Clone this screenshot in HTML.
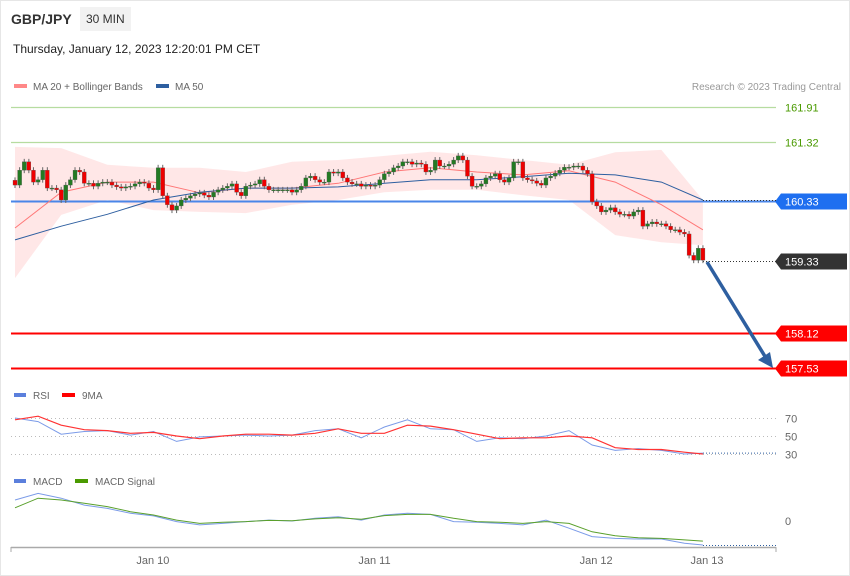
<!DOCTYPE html>
<html><head><meta charset="utf-8"><style>
body{margin:0;background:#fff;font-family:"Liberation Sans",sans-serif}
#wrap{position:relative;width:850px;height:576px;overflow:hidden}
svg text{font-family:"Liberation Sans",sans-serif}
</style></head><body>
<div id="wrap">
<svg id="c" width="850" height="576">
<rect x="0.5" y="0.5" width="849" height="575" fill="#fff" stroke="#e6e6e6"/>
<text x="11" y="24" font-size="14" font-weight="bold" fill="#333">GBP/JPY</text>
<rect x="80" y="7" width="51" height="24" fill="#f2f2f2"/>
<text x="86" y="23" font-size="12" fill="#333">30 MIN</text>
<text x="13" y="53" font-size="12" fill="#222">Thursday, January 12, 2023 12:20:01 PM CET</text>
<rect x="14" y="84" width="13" height="4" fill="#f88"/>
<text x="33" y="90" font-size="10" fill="#666">MA 20 + Bollinger Bands</text>
<rect x="156" y="84" width="13" height="4" fill="#2e5fa0"/>
<text x="175" y="90" font-size="10" fill="#666">MA 50</text>
<text x="841" y="90" font-size="10" fill="#999" text-anchor="end">Research © 2023 Trading Central</text>
<g id="main"></g>
</svg>
</div>
<script>
const closes=[160.60,160.85,160.99,160.85,160.65,160.69,160.85,160.55,160.55,160.52,
160.35,160.60,160.69,160.85,160.82,160.63,160.63,160.58,160.63,160.65,
160.65,160.60,160.57,160.55,160.57,160.58,160.62,160.65,160.63,160.55,
160.52,160.89,160.42,160.27,160.18,160.25,160.35,160.38,160.42,160.45,
160.47,160.43,160.40,160.48,160.52,160.55,160.58,160.62,160.48,160.42,
160.58,160.60,160.62,160.69,160.58,160.52,160.52,160.52,160.52,160.52,
160.48,160.52,160.58,160.72,160.75,160.69,160.65,160.65,160.82,160.80,
160.82,160.72,160.65,160.62,160.62,
160.58,160.60,160.58,160.60,160.69,160.79,160.82,160.89,160.92,160.99,
160.99,160.95,160.97,160.95,160.82,160.85,161.02,160.92,160.92,160.95,
161.02,161.09,161.02,160.75,160.58,160.58,160.62,160.72,160.75,160.79,
160.69,160.65,160.72,160.99,160.99,160.72,160.69,160.67,160.63,160.60,
160.72,160.75,160.80,160.85,160.90,160.90,160.92,160.92,160.85,160.79,
160.32,160.25,160.15,160.18,160.22,160.15,160.11,160.11,160.08,160.15,
160.18,159.91,159.95,159.98,159.95,159.95,159.91,159.85,159.85,159.81,
159.78,159.42,159.34,159.54,159.34];
const firstOpen=160.68;
const lineIdx=[0,10,20,30,40,50,60,70,80,90,100,110,120,130,140,149];
const ma20=[159.88,160.48,160.65,160.65,160.47,160.55,160.55,160.63,160.82,160.89,160.82,160.77,160.84,160.65,160.27,159.85];
const ma50=[159.68,159.91,160.11,160.35,160.48,160.55,160.55,160.57,160.63,160.69,160.69,160.74,160.80,160.77,160.65,160.35];
const bbUpper=[161.24,161.22,160.94,160.89,160.89,160.82,160.99,161.02,161.09,161.16,161.10,161.02,160.94,161.15,161.19,160.35];
const bbLower=[159.04,160.10,160.35,160.18,160.15,160.13,160.27,160.35,160.48,160.52,160.52,160.43,160.35,159.76,159.64,159.59];
const levels=[161.91,161.32,160.33,159.33,158.12,157.53];
const oscIdx=[0,5,10,15,20,25,30,35,40,45,50,55,60,65,70,75,80,85,90,95,100,105,110,115,120,125,130,135,140,145,149];
const rsi=[70,66,52,55,56,51,55,44,49,50,51,50,51,56,58,48,60,68,58,57,44,48,47,50,56,40,34,36,34,30,31];
const rsiMA=[68,72,62,57,56,53,54,50,47,50,52,52,51,53,58,53,53,62,61,57,52,47,48,48,50,48,37,35,35,32,30];
const rsiTicks=[70,50,30];
const macd=[0.070,0.092,0.076,0.053,0.042,0.026,0.017,-0.002,-0.013,-0.008,-0.002,0.003,0,0.009,0.014,0.003,0.020,0.026,0.022,-0.002,-0.004,-0.008,-0.013,0.003,-0.024,-0.052,-0.058,-0.060,-0.060,-0.074,-0.080];
const macdSig=[0.044,0.076,0.070,0.059,0.048,0.031,0.020,0.003,-0.008,-0.004,-0.002,0.002,0.001,0.007,0.011,0.006,0.018,0.022,0.022,0.009,-0.002,-0.004,-0.008,-0.002,-0.008,-0.036,-0.049,-0.056,-0.058,-0.063,-0.067];
const dateLabels=["Jan 10","Jan 11","Jan 12","Jan 13"];
const dateIdx=[29,77,125,149];

const NS="http://www.w3.org/2000/svg";
const g=document.getElementById('main');
const xI=i=>15+i*4.617;
const yP=p=>107+(161.91-p)*59.6;
const yR=v=>436-(v-50)*0.9;
const yM=v=>521-v*300;
function mk(t,a){const e=document.createElementNS(NS,t);for(const k in a)e.setAttribute(k,a[k]);g.appendChild(e);return e;}
function pts(idx,vals,fy){return idx.map((i,k)=>xI(i).toFixed(1)+','+fy(vals[k]).toFixed(1)).join(' ');}

// bollinger band
let bb=mk('polygon',{points:pts(lineIdx,bbUpper,yP)+' '+pts(lineIdx.slice().reverse(),bbLower.slice().reverse(),yP),fill:'#ffe3e3',opacity:'0.85'});



// level lines
const lvlColor=['#b6dca0','#b6dca0','#4a86e8','#333','#f00','#f00'];
const lvlBox=[null,null,'#1e6ff0','#333','#f00','#f00'];
const lvlText=['#4a9a00','#4a9a00','#fff','#fff','#fff','#fff'];
levels.forEach((v,k)=>{
  const y=Math.round(yP(v))+0.5;
  let l;
  if(k===3){l=mk('line',{x1:703,x2:776,y1:y,y2:y,stroke:'#333','stroke-dasharray':'1,2'});}
  else l=mk('line',{x1:11,x2:776,y1:y,y2:y,stroke:lvlColor[k],'stroke-width':(k>=2?2:1.2)});
  
  
  if(lvlBox[k]){
    const b=mk('polygon',{points:`775,${y} 781,${y-8} 847,${y-8} 847,${y+8} 781,${y+8}`,fill:lvlBox[k]});
    
    
  }
  const t=mk('text',{x:785,y:y+4,'font-size':11,fill:lvlText[k]});
  t.textContent=v.toFixed(2);
  
  
});
let dl=mk('line',{x1:703,x2:776,y1:200.5,y2:200.5,stroke:'#333','stroke-dasharray':'1,2'});



// MA lines
let m20=mk('polyline',{points:pts(lineIdx,ma20,yP),fill:'none',stroke:'#f77','stroke-width':1});


let m50=mk('polyline',{points:pts(lineIdx,ma50,yP),fill:'none',stroke:'#2e5fa0','stroke-width':1});



// candles
closes.forEach((c,i)=>{
  const o=i===0?firstOpen:closes[i-1];
  const hi=Math.max(o,c)+0.05, lo=Math.min(o,c)-0.05;
  const x=xI(i);
  const w=mk('line',{x1:x,x2:x,y1:yP(hi),y2:yP(lo),stroke:'#666','stroke-width':1});
  
  
  const top=yP(Math.max(o,c)),bot=yP(Math.min(o,c));
  const r=mk('rect',{x:x-2,y:top,width:4,height:Math.max(1,bot-top),fill:c>=o?'#237a23':'#e00',stroke:'#555','stroke-width':0.3});
  
  
});

// arrow
let ar=mk('line',{x1:707,y1:262,x2:766,y2:358,stroke:'#2e5fa0','stroke-width':3.5});


let ah=mk('polygon',{points:'773,368 758,360 770,352',fill:'#2e5fa0'});



// RSI panel
let rl=mk('rect',{x:14,y:393,width:12,height:4,fill:'#5b7fdc'});


let rt=mk('text',{x:33,y:399,'font-size':10,fill:'#666'});rt.textContent='RSI';


let rl2=mk('rect',{x:62,y:393,width:13,height:4,fill:'#f00'});


let rt2=mk('text',{x:82,y:399,'font-size':10,fill:'#666'});rt2.textContent='9MA';


rsiTicks.forEach(v=>{
  const y=Math.round(yR(v))+0.5;
  const l=mk('line',{x1:11,x2:776,y1:y,y2:y,stroke:'#bbb','stroke-dasharray':'1,3'});
  
  
  const t=mk('text',{x:785,y:y+4,'font-size':11,fill:'#666'});t.textContent=v;
  
  
});
let rd=mk('line',{x1:703,x2:776,y1:yR(rsi[rsi.length-1]),y2:yR(rsi[rsi.length-1]),stroke:'#2e5fa0','stroke-dasharray':'1,2'});


let rb=mk('polyline',{points:pts(oscIdx,rsi,yR),fill:'none',stroke:'#7b9be8','stroke-width':1});


let rm=mk('polyline',{points:pts(oscIdx,rsiMA,yR),fill:'none',stroke:'#f33','stroke-width':1.2});



// MACD panel
let ml=mk('rect',{x:14,y:479,width:12,height:4,fill:'#5b7fdc'});


let mt=mk('text',{x:33,y:485,'font-size':10,fill:'#666'});mt.textContent='MACD';


let ml2=mk('rect',{x:75,y:479,width:13,height:4,fill:'#4a9a00'});


let mt2=mk('text',{x:95,y:485,'font-size':10,fill:'#666'});mt2.textContent='MACD Signal';


let z=mk('text',{x:785,y:525,'font-size':11,fill:'#666'});z.textContent='0';


let md=mk('line',{x1:703,x2:776,y1:545.5,y2:545.5,stroke:'#2e5fa0','stroke-dasharray':'1,2'});


let mb=mk('polyline',{points:pts(oscIdx,macd,yM),fill:'none',stroke:'#7b9be8','stroke-width':1});


let ms=mk('polyline',{points:pts(oscIdx,macdSig,yM),fill:'none',stroke:'#5aa02c','stroke-width':1});



// x axis
let ax=mk('line',{x1:11,x2:776,y1:547.5,y2:547.5,stroke:'#aaa','stroke-width':1.5});


[11,776].forEach(x=>{const t=mk('line',{x1:x,x2:x,y1:547,y2:552,stroke:'#aaa'});

});
dateLabels.forEach((d,k)=>{
  const x=k===3?707:xI(dateIdx[k])+4;
  const t=mk('text',{x:x,y:564,'font-size':11,fill:'#666','text-anchor':'middle'});t.textContent=d;
  
  
});
</script>
</body></html>
